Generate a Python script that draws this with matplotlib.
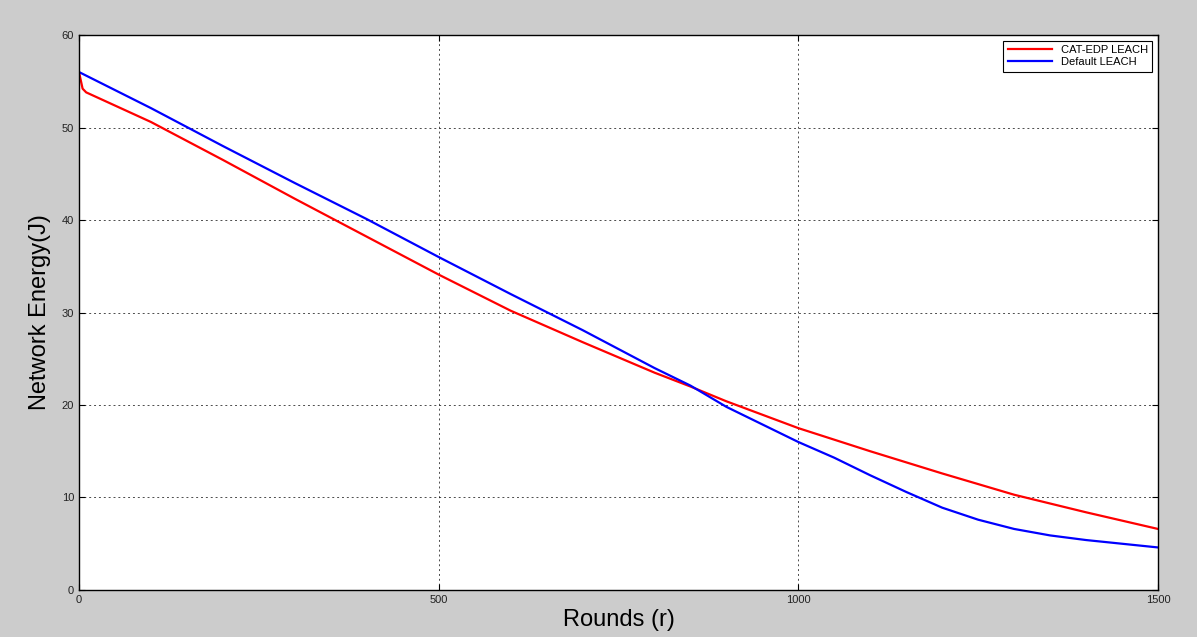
import matplotlib
matplotlib.use("Agg")
import numpy as np
import matplotlib.pyplot as plt

plt.rcParams["font.family"] = ["Liberation Sans", "DejaVu Sans"]

# Curvas (rondas, energía en J)
rondas_cat = [0, 5, 10, 100, 200, 300, 400, 500, 600, 700, 800, 850, 900,
              1000, 1100, 1200, 1300, 1400, 1500]
energia_cat = [56.0, 54.2, 53.8, 50.6, 46.5, 42.3, 38.2, 34.1, 30.2, 26.8,
               23.5, 22.0, 20.4, 17.5, 15.0, 12.6, 10.3, 8.4, 6.6]

rondas_def = [0, 100, 200, 300, 400, 500, 600, 700, 800, 850, 900, 1000,
              1050, 1100, 1150, 1200, 1250, 1300, 1350, 1400, 1450, 1500]
energia_def = [56.0, 52.1, 48.0, 44.0, 40.1, 36.0, 32.0, 28.1, 24.0, 22.1,
               19.8, 16.0, 14.3, 12.4, 10.6, 8.9, 7.6, 6.6, 5.9, 5.4, 5.0, 4.6]

x_ticks = [0, 500, 1000, 1500]
y_ticks = [0, 10, 20, 30, 40, 50, 60]

fig = plt.figure(figsize=(11.97, 6.37), dpi=100, facecolor="#cccccc")
ax = fig.add_axes([0.066, 0.0738, 0.9014, 0.8712])
ax.set_facecolor("white")

ax.plot(rondas_cat, energia_cat, color="#ff0000", lw=1.6, label="CAT-EDP LEACH")
ax.plot(rondas_def, energia_def, color="#0000ff", lw=1.6, label="Default LEACH")

ax.set_xlim(0, 1500)
ax.set_ylim(0, 60)
ax.set_xticks(x_ticks)
ax.set_yticks(y_ticks)
ax.tick_params(direction="in", labelsize=8, length=4, top=True, right=True,
               labelcolor="#222222")
ax.grid(True, linestyle=(0, (2, 3)), color="black", lw=0.7, alpha=0.7)
for s in ax.spines.values():
    s.set_color("black")
    s.set_linewidth(1.0)

ax.set_xlabel("Rounds (r)", fontsize=17, labelpad=3)
ax.set_ylabel("Network Energy(J)", fontsize=17, labelpad=8)

leg = ax.legend(loc="upper right", fontsize=8, fancybox=False,
                edgecolor="black", framealpha=1, handlelength=4,
                borderaxespad=0.5, labelspacing=0.2)
leg.get_frame().set_linewidth(0.8)

fig.savefig("out.png", dpi=100, facecolor=fig.get_facecolor())
